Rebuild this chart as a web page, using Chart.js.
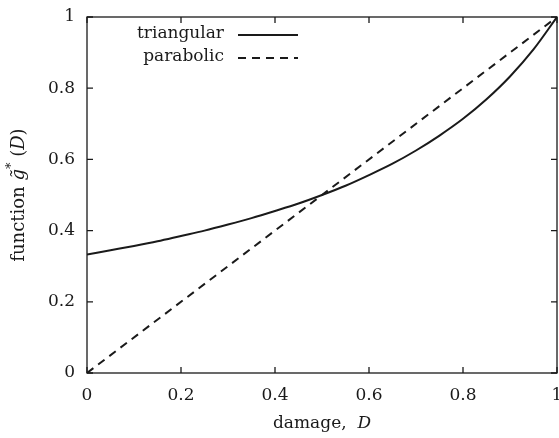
<!DOCTYPE html>
<html>
<head>
<meta charset="utf-8">
<script src="https://cdn.jsdelivr.net/npm/chart.js@4/dist/chart.umd.min.js"></script>
<style>
    html, body { margin: 0; padding: 0; background: #fff; }
    canvas { display: block; }
</style>
</head>
<body>
<canvas id="chart" width="559" height="438"></canvas>
<script>
// values
var damage = [0, 0.05, 0.1, 0.15, 0.2, 0.25, 0.3, 0.35, 0.4, 0.45, 0.5,
    0.55, 0.6, 0.65, 0.7, 0.75, 0.8, 0.85, 0.9, 0.95, 1];
var triangular = [0.333, 0.345, 0.357, 0.370, 0.385, 0.400, 0.417, 0.435, 0.455, 0.476, 0.500,
    0.526, 0.556, 0.588, 0.625, 0.667, 0.714, 0.769, 0.833, 0.909, 1.0];
var parabolicX = [0, 0.5, 1];
var parabolic = [0, 0.5, 1];
var xTicks = [0, 0.2, 0.4, 0.6, 0.8, 1];
var yTicks = [0, 0.2, 0.4, 0.6, 0.8, 1];
var seriesNames = ['triangular', 'parabolic'];

var FONT = '"DejaVu Serif", "Liberation Serif", serif';
var INK = '#1a1a1a';

function points(xs, ys) {
    return xs.map(function(x, i) { return {x: x, y: ys[i]}; });
}

function tickLabel(v) {
    return v === 0 || v === 1 ? String(v) : v.toFixed(1);
}

// frame, inward ticks on all sides, legend and axis titles
var decorations = {
    id: 'decorations',
    afterDraw: function(chart) {
        var ctx = chart.ctx;
        var a = chart.chartArea;
        var xs = chart.scales.x, ys = chart.scales.y;
        var t = 6;
        ctx.save();
        ctx.strokeStyle = INK;
        ctx.lineWidth = 1.3;
        ctx.beginPath();
        xTicks.forEach(function(v) {
            var px = xs.getPixelForValue(v);
            ctx.moveTo(px, a.bottom); ctx.lineTo(px, a.bottom - t);
            ctx.moveTo(px, a.top); ctx.lineTo(px, a.top + t);
        });
        yTicks.forEach(function(v) {
            var py = ys.getPixelForValue(v);
            ctx.moveTo(a.left, py); ctx.lineTo(a.left + t, py);
            ctx.moveTo(a.right, py); ctx.lineTo(a.right - t, py);
        });
        ctx.stroke();
        ctx.strokeRect(a.left, a.top, a.right - a.left, a.bottom - a.top);

        // legend
        ctx.font = '17px ' + FONT;
        ctx.fillStyle = INK;
        ctx.textAlign = 'right';
        ctx.textBaseline = 'middle';
        chart.data.datasets.forEach(function(ds, i) {
            var y = 34 + i * 23;
            ctx.fillText(ds.label, 224, y);
            ctx.beginPath();
            ctx.lineWidth = ds.borderWidth;
            ctx.setLineDash(ds.borderDash || []);
            ctx.moveTo(238, y + 1);
            ctx.lineTo(298, y + 1);
            ctx.stroke();
        });
        ctx.setLineDash([]);

        // x title: "damage, D"
        drawParts(ctx, [['damage,  ', false], ['D', true]], (a.left + a.right) / 2, 424);

        // y title: "function g~*(D)"
        ctx.translate(19, (a.top + a.bottom) / 2);
        ctx.rotate(-Math.PI / 2);
        drawParts(ctx, [['function ', false, 18], ['g\u0303', true, 18], ['*', false, 13, -7], [' (', false, 18], ['D', true, 18], [')', false, 18]], 0, 0);
        ctx.restore();
    }
};

function drawParts(ctx, parts, cx, cy) {
    var total = 0;
    parts.forEach(function(p) {
        ctx.font = (p[1] ? 'italic ' : '') + (p[2] || 17) + 'px ' + FONT;
        total += ctx.measureText(p[0]).width;
    });
    var x = cx - total / 2;
    ctx.textAlign = 'left';
    ctx.textBaseline = 'middle';
    parts.forEach(function(p) {
        ctx.font = (p[1] ? 'italic ' : '') + (p[2] || 17) + 'px ' + FONT;
        ctx.fillText(p[0], x, cy + (p[3] || 0));
        x += ctx.measureText(p[0]).width;
    });
}

new Chart(document.getElementById('chart'), {
    type: 'scatter',
    data: {
        datasets: [{
            label: seriesNames[0],
            data: points(damage, triangular),
            showLine: true,
            borderColor: INK,
            borderWidth: 2,
            pointRadius: 0,
            cubicInterpolationMode: 'monotone'
        }, {
            label: seriesNames[1],
            data: points(parabolicX, parabolic),
            showLine: true,
            borderColor: INK,
            borderWidth: 2,
            borderDash: [8, 6],
            pointRadius: 0,
            tension: 0
        }]
    },
    options: {
        responsive: false,
        animation: false,
        layout: { padding: { left: 0, top: 17, right: 2, bottom: 0 } },
        plugins: { legend: { display: false }, tooltip: { enabled: false } },
        scales: {
            x: {
                type: 'linear',
                min: 0,
                max: 1,
                afterBuildTicks: function(s) { s.ticks = xTicks.map(function(v) { return {value: v}; }); },
                afterFit: function(s) { s.height = 65; s.paddingLeft = 0; s.paddingRight = 0; },
                grid: { display: false, drawTicks: false },
                border: { display: false },
                ticks: {
                    padding: 12,
                    color: INK,
                    font: { family: FONT, size: 17 },
                    callback: function(v) { return tickLabel(v); }
                }
            },
            y: {
                type: 'linear',
                min: 0,
                max: 1,
                afterBuildTicks: function(s) { s.ticks = yTicks.map(function(v) { return {value: v}; }); },
                afterFit: function(s) { s.width = 87; s.paddingTop = 0; s.paddingBottom = 0; },
                grid: { display: false, drawTicks: false },
                border: { display: false },
                ticks: {
                    padding: 12,
                    color: INK,
                    font: { family: FONT, size: 17 },
                    callback: function(v) { return tickLabel(v); }
                }
            }
        }
    },
    plugins: [decorations]
});
</script>
</body>
</html>
